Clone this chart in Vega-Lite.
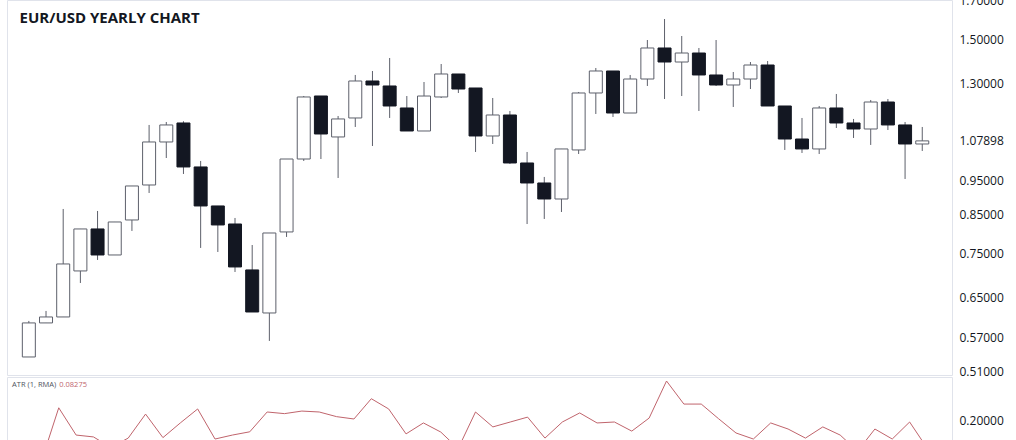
{
  "$schema": "https://vega.github.io/schema/vega-lite/v6.json",
  "padding": {"top": -6, "left": 6, "right": 0, "bottom": 0},
  "background": "#ffffff",
  "spacing": 2,
  "bounds": "flush",
  "config": {
    "view": {"stroke": "#e0e3eb", "strokeWidth": 1},
    "axis": {"labelFont": "Open Sans", "labelFontSize": 12, "labelColor": "#131722", "ticks": false, "domain": false, "grid": false, "labelPadding": 7, "title": null, "labelOverlap": false}
  },
  "datasets": {
    "fx": [
      {"year": 1971, "o": 0.5354, "h": 0.6018, "l": 0.5354, "c": 0.5979, "atr": 0.066},
      {"year": 1972, "o": 0.5979, "h": 0.6216, "l": 0.5979, "c": 0.6096, "atr": 0.025},
      {"year": 1973, "o": 0.6096, "h": 0.8652, "l": 0.6096, "c": 0.7239, "atr": 0.255},
      {"year": 1974, "o": 0.7077, "h": 0.8109, "l": 0.6806, "c": 0.8109, "atr": 0.138},
      {"year": 1975, "o": 0.8109, "h": 0.8596, "l": 0.7334, "c": 0.7453, "atr": 0.130},
      {"year": 1976, "o": 0.7453, "h": 0.8295, "l": 0.7453, "c": 0.8295, "atr": 0.085},
      {"year": 1977, "o": 0.8349, "h": 0.9322, "l": 0.8057, "c": 0.9322, "atr": 0.125},
      {"year": 1978, "o": 0.9352, "h": 1.1362, "l": 0.9113, "c": 1.0752, "atr": 0.228},
      {"year": 1979, "o": 1.0752, "h": 1.1472, "l": 1.0207, "c": 1.1362, "atr": 0.127},
      {"year": 1980, "o": 1.1435, "h": 1.1500, "l": 0.9692, "c": 0.9915, "atr": 0.190},
      {"year": 1981, "o": 0.9915, "h": 1.0110, "l": 0.7625, "c": 0.8737, "atr": 0.250},
      {"year": 1982, "o": 0.8737, "h": 0.8737, "l": 0.7526, "c": 0.8215, "atr": 0.121},
      {"year": 1983, "o": 0.8241, "h": 0.8403, "l": 0.7053, "c": 0.7169, "atr": 0.138},
      {"year": 1984, "o": 0.7100, "h": 0.7698, "l": 0.6195, "c": 0.6195, "atr": 0.152},
      {"year": 1985, "o": 0.6175, "h": 0.8004, "l": 0.5640, "c": 0.8004, "atr": 0.237},
      {"year": 1986, "o": 0.8031, "h": 1.0174, "l": 0.7902, "c": 1.0174, "atr": 0.230},
      {"year": 1987, "o": 1.0174, "h": 1.2481, "l": 1.0110, "c": 1.2441, "atr": 0.241},
      {"year": 1988, "o": 1.2481, "h": 1.2481, "l": 1.0174, "c": 1.1034, "atr": 0.237},
      {"year": 1989, "o": 1.0928, "h": 1.1697, "l": 0.9567, "c": 1.1585, "atr": 0.217},
      {"year": 1990, "o": 1.1622, "h": 1.3361, "l": 1.1288, "c": 1.3103, "atr": 0.207},
      {"year": 1991, "o": 1.3103, "h": 1.3535, "l": 1.0613, "c": 1.2934, "atr": 0.294},
      {"year": 1992, "o": 1.2893, "h": 1.4118, "l": 1.1622, "c": 1.2083, "atr": 0.250},
      {"year": 1993, "o": 1.2005, "h": 1.2480, "l": 1.1142, "c": 1.1142, "atr": 0.143},
      {"year": 1994, "o": 1.1142, "h": 1.3060, "l": 1.1142, "c": 1.2480, "atr": 0.190},
      {"year": 1995, "o": 1.2441, "h": 1.3845, "l": 1.2400, "c": 1.3404, "atr": 0.151},
      {"year": 1996, "o": 1.3404, "h": 1.3404, "l": 1.2603, "c": 1.2767, "atr": 0.080},
      {"year": 1997, "o": 1.2809, "h": 1.2809, "l": 1.0409, "c": 1.0963, "atr": 0.237},
      {"year": 1998, "o": 1.0963, "h": 1.2400, "l": 1.0682, "c": 1.1735, "atr": 0.173},
      {"year": 1999, "o": 1.1735, "h": 1.1889, "l": 1.0012, "c": 1.0044, "atr": 0.194},
      {"year": 2000, "o": 1.0044, "h": 1.0409, "l": 0.8240, "c": 0.9413, "atr": 0.215},
      {"year": 2001, "o": 0.9413, "h": 0.9599, "l": 0.8376, "c": 0.8937, "atr": 0.125},
      {"year": 2002, "o": 0.8937, "h": 1.0511, "l": 0.8568, "c": 1.0511, "atr": 0.194},
      {"year": 2003, "o": 1.0477, "h": 1.2644, "l": 1.0341, "c": 1.2603, "atr": 0.233},
      {"year": 2004, "o": 1.2603, "h": 1.3667, "l": 1.1774, "c": 1.3535, "atr": 0.190},
      {"year": 2005, "o": 1.3535, "h": 1.3535, "l": 1.1660, "c": 1.1811, "atr": 0.194},
      {"year": 2006, "o": 1.1811, "h": 1.3361, "l": 1.1811, "c": 1.3188, "atr": 0.155},
      {"year": 2007, "o": 1.3188, "h": 1.4966, "l": 1.2893, "c": 1.4583, "atr": 0.211},
      {"year": 2008, "o": 1.4583, "h": 1.6020, "l": 1.2360, "c": 1.3935, "atr": 0.370},
      {"year": 2009, "o": 1.3935, "h": 1.5161, "l": 1.2480, "c": 1.4348, "atr": 0.271},
      {"year": 2010, "o": 1.4348, "h": 1.4583, "l": 1.1889, "c": 1.3361, "atr": 0.271},
      {"year": 2011, "o": 1.3361, "h": 1.4966, "l": 1.2893, "c": 1.2934, "atr": 0.208},
      {"year": 2012, "o": 1.2934, "h": 1.3491, "l": 1.2044, "c": 1.3188, "atr": 0.147},
      {"year": 2013, "o": 1.3188, "h": 1.3935, "l": 1.2767, "c": 1.3800, "atr": 0.121},
      {"year": 2014, "o": 1.3800, "h": 1.3980, "l": 1.2083, "c": 1.2083, "atr": 0.190},
      {"year": 2015, "o": 1.2083, "h": 1.2083, "l": 1.0477, "c": 1.0856, "atr": 0.164},
      {"year": 2016, "o": 1.0856, "h": 1.1622, "l": 1.0375, "c": 1.0511, "atr": 0.125},
      {"year": 2017, "o": 1.0511, "h": 1.2083, "l": 1.0341, "c": 1.2005, "atr": 0.173},
      {"year": 2018, "o": 1.2005, "h": 1.2563, "l": 1.1251, "c": 1.1435, "atr": 0.138},
      {"year": 2019, "o": 1.1435, "h": 1.1585, "l": 1.0892, "c": 1.1214, "atr": 0.069},
      {"year": 2020, "o": 1.1214, "h": 1.2320, "l": 1.0649, "c": 1.2240, "atr": 0.164},
      {"year": 2021, "o": 1.2240, "h": 1.2360, "l": 1.1178, "c": 1.1362, "atr": 0.121},
      {"year": 2022, "o": 1.1362, "h": 1.1472, "l": 0.9536, "c": 1.0682, "atr": 0.194},
      {"year": 2023, "o": 1.0682, "h": 1.1288, "l": 1.0443, "c": 1.07898, "atr": 0.08275}
    ]
  },
  "vconcat": [
    {
      "width": 945,
      "height": 375,
      "data": {"name": "fx"},
      "encoding": {
        "x": {"field": "year", "type": "quantitative", "scale": {"domain": [1970.02, 2024.44], "nice": false, "zero": false}, "axis": null}
      },
      "layer": [
        {
          "mark": {"type": "rule", "color": "#5d606b", "strokeWidth": 1},
          "encoding": {
            "y": {"field": "l", "type": "quantitative", "scale": {"type": "log", "domain": [0.505, 1.7039], "nice": false, "zero": false},
              "axis": {"orient": "right", "values": [0.51, 0.57, 0.65, 0.75, 0.85, 0.95, 1.07898, 1.3, 1.5, 1.7], "format": ".5f"}},
            "y2": {"field": "h"}
          }
        },
        {
          "mark": {"type": "bar", "size": 13, "strokeWidth": 1},
          "encoding": {
            "y": {"field": "o", "type": "quantitative"},
            "y2": {"field": "c"},
            "fill": {"condition": {"test": "datum.c < datum.o", "value": "#131722"}, "value": "#ffffff"},
            "stroke": {"condition": {"test": "datum.c < datum.o", "value": "#131722"}, "value": "#5d606b"}
          }
        },
        {
          "transform": [{"filter": "datum.year == 2023"}],
          "mark": {"type": "text", "text": "EUR/USD YEARLY CHART", "align": "left", "baseline": "middle", "font": "Open Sans", "fontSize": 15, "fontWeight": "bold", "color": "#131722"},
          "encoding": {
            "x": {"datum": 1970.46, "type": "quantitative"},
            "y": {"datum": 1.608, "type": "quantitative"}
          }
        }
      ]
    },
    {
      "width": 945,
      "height": 100,
      "data": {"name": "fx"},
      "layer": [
        {
          "mark": {"type": "line", "color": "#c0646c", "strokeWidth": 1},
          "encoding": {
            "x": {"field": "year", "type": "quantitative", "scale": {"domain": [1970.02, 2024.44], "nice": false, "zero": false}, "axis": null},
            "y": {"field": "atr", "type": "quantitative", "scale": {"domain": [-0.042, 0.3872], "nice": false, "zero": false},
              "axis": {"orient": "right", "values": [0.2], "format": ".5f"}}
          }
        },
        {
          "transform": [{"filter": "datum.year == 2023"}],
          "mark": {"type": "text", "text": "ATR (1, RMA)", "align": "left", "baseline": "middle", "font": "Open Sans", "fontSize": 7.5, "color": "#50535e"},
          "encoding": {
            "x": {"datum": 1970.31, "type": "quantitative"},
            "y": {"datum": 0.3515, "type": "quantitative"}
          }
        },
        {
          "transform": [{"filter": "datum.year == 2023"}],
          "mark": {"type": "text", "align": "left", "baseline": "middle", "font": "Open Sans", "fontSize": 7.5, "color": "#c0646c"},
          "encoding": {
            "x": {"datum": 1973.03, "type": "quantitative"},
            "y": {"datum": 0.3515, "type": "quantitative"},
            "text": {"field": "atr", "type": "quantitative", "format": ".5f"}
          }
        }
      ]
    }
  ]
}
